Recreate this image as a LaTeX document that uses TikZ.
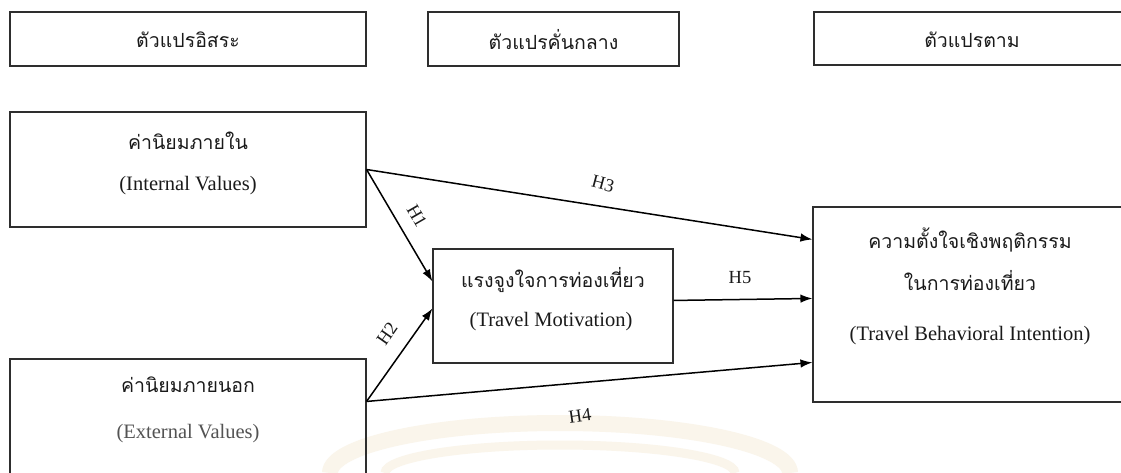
\documentclass[tikz,border=0pt]{standalone}
\usepackage{fontspec}
\setmainfont{Liberation Serif}
\newfontfamily\thaifont[Script=Thai]{Loma}
\usetikzlibrary{arrows.meta,calc}

\definecolor{ink}{HTML}{1A1A1A}
\definecolor{frame}{HTML}{2E2E2E}
\definecolor{seal}{HTML}{FAF5EB}

\tikzset{
  box/.style={draw=frame, line width=1.1pt, rectangle, inner sep=0pt},
  th/.style={font=\thaifont\fontsize{19.5}{21}\selectfont, text=ink, inner sep=0pt},
  en/.style={font=\fontsize{20.5}{22}\selectfont, text=ink, inner sep=0pt},
  hyp/.style={font=\fontsize{18.5}{20}\selectfont, text=ink, inner sep=1pt},
  path/.style={draw=black, line width=1.5pt, -{Latex[length=12pt,width=8.5pt]}},
}

\begin{document}
\begin{tikzpicture}[x=1pt,y=-1pt]
  \useasboundingbox (0,0) rectangle (1121,473);
  \fill[white] (0,0) rectangle (1121,473);

  % faint seal in the lower middle
  \begin{scope}
    \clip (0,0) rectangle (1121,473);
    \draw[seal, line width=16pt] (330,473) arc[start angle=180, end angle=0, x radius=230, y radius=-50];
    \draw[seal, line width=9pt] (385,473) arc[start angle=180, end angle=0, x radius=175, y radius=-28];
  \end{scope}

  % column headings
  \node[box, minimum width=356pt, minimum height=54pt] (hiv) at (188,39) {};
  \node[box, minimum width=251pt, minimum height=54pt] (hmv) at (553.5,39) {};
  \node[box, minimum width=316pt, minimum height=53pt] (hdv) at (972,38.5) {};
  \node[th] (thiv) at (188,40) {ตัวแปรอิสระ};
  \node[th] (thmv) at (553.5,40) {ตัวแปรคั่นกลาง};
  \node[th] (thdv) at (972,40) {ตัวแปรตาม};

  % construct boxes
  \node[box, minimum width=356pt, minimum height=115pt] (inv) at (188,169.5) {};
  \node[box, minimum width=240pt, minimum height=114pt] (mot) at (553,306) {};
  \node[box, minimum width=314pt, minimum height=195pt] (beh) at (970,304.5) {};
  \node[box, minimum width=356pt, minimum height=141pt] (ext) at (188,429.5) {};

  % construct labels
  \node[th] (tinv) at (188,141) {ค่านิยมภายใน};
  \node[en] (einv) at (188,186) {(Internal Values)};
  \node[th] (tmot) at (553,280) {แรงจูงใจการท่องเที่ยว};
  \node[en] (emot) at (551,322) {(Travel Motivation)};
  \node[th] (tbeh1) at (970,240) {ความตั้งใจเชิงพฤติกรรม};
  \node[th] (tbeh2) at (970,281) {ในการท่องเที่ยว};
  \node[en] (ebeh) at (970,336) {(Travel Behavioral Intention)};
  \node[th] (text) at (188,385) {ค่านิยมภายนอก};
  \node[en, text=ink!75] (eext) at (188,434) {(External Values)};

  % attachment points
  \coordinate (extout) at ($(ext.north east)+(0,43)$);
  \coordinate (motin1) at ($(mot.north west)+(0,33)$);
  \coordinate (motin2) at ($(mot.north west)+(0,60)$);
  \coordinate (motout) at ($(mot.north east)+(0,52)$);
  \coordinate (behin1) at ($(beh.north west)+(0,33)$);
  \coordinate (behin2) at ($(beh.north west)+(0,92)$);
  \coordinate (behin3) at ($(beh.north west)+(0,156)$);

  % hypothesised paths
  \draw[path] (inv.east) -- (behin1);
  \draw[path] (inv.east) -- (motin1);
  \draw[path] (extout) -- (motin2);
  \draw[path] (extout) -- (behin3);
  \draw[path] (motout) -- (behin2);

  \node[hyp, rotate=-15] (h3) at (603,184) {H3};
  \node[hyp, rotate=-60] (h1) at (417,216) {H1};
  \node[hyp, rotate=55] (h2) at (387,334) {H2};
  \node[hyp, rotate=8] (h4) at (580,416) {H4};
  \node[hyp] (h5) at (740,278) {H5};
\end{tikzpicture}
\end{document}
